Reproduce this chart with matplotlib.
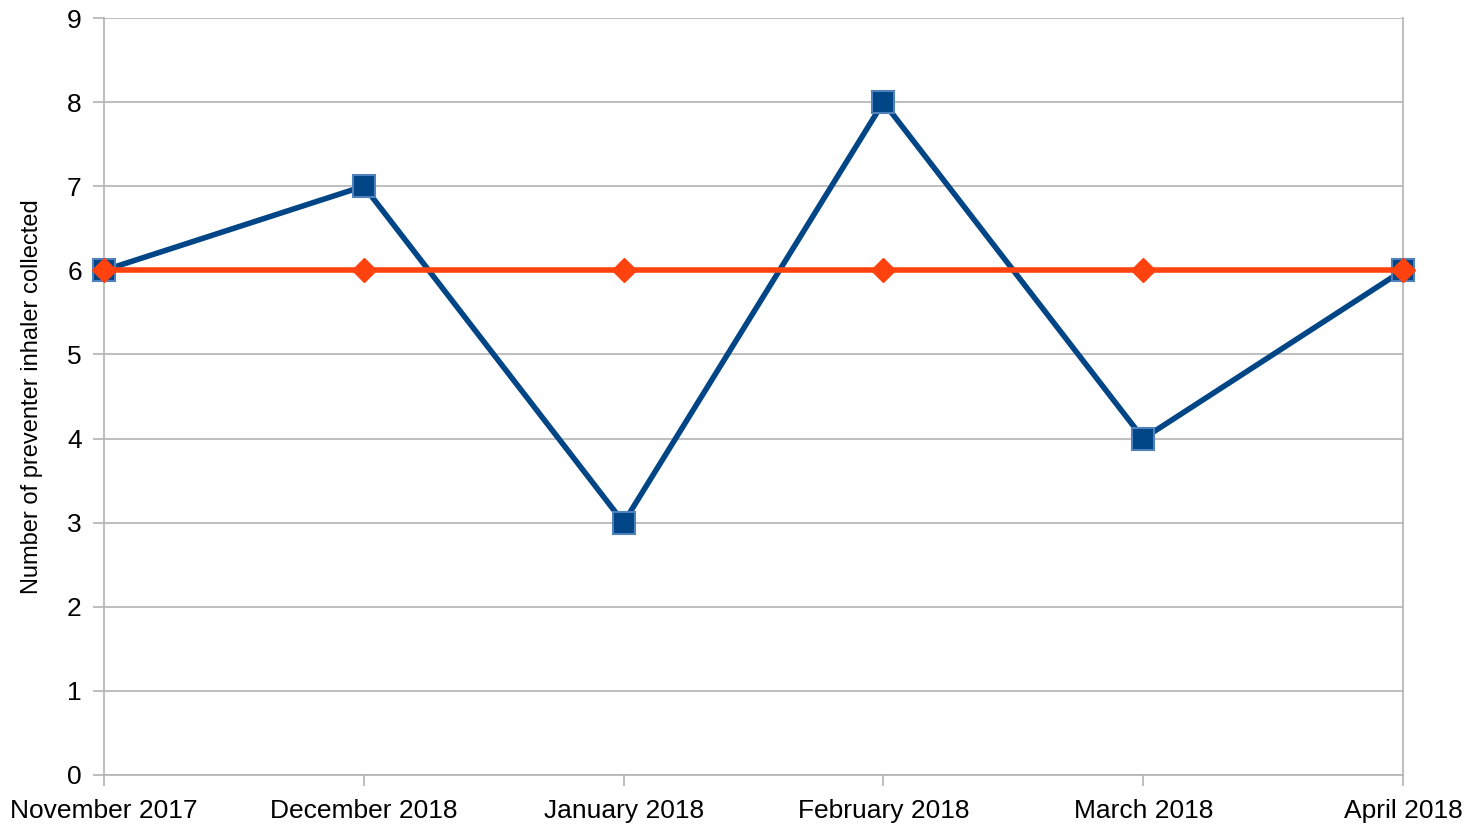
import matplotlib
matplotlib.use("Agg")
import matplotlib.pyplot as plt

plt.rcParams['font.family'] = ['Liberation Sans', 'DejaVu Sans']

months = ["November 2017", "December 2018", "January 2018", "February 2018", "March 2018", "April 2018"]
collected = [6, 7, 3, 8, 4, 6]
target = [6, 6, 6, 6, 6, 6]

fig = plt.figure(figsize=(14.68, 8.25), dpi=100)
ax = fig.add_axes([104/1468, 50/825, 1299/1468, 757/825])

x = list(range(len(months)))
ax.plot(x, collected, color="#004586", lw=4, marker="s", ms=16,
        mfc="#004586", mec="#4f81bd", mew=1.5, zorder=3, clip_on=False)
ax.plot(x, target, color="#ff420e", lw=4, marker="D", ms=12,
        mfc="#ff420e", mec="#ff420e", zorder=4, clip_on=False)

ax.set_xlim(0, 5)
ax.set_ylim(0, 9)
ax.set_yticks(range(10))
ax.set_xticks(x)
ax.set_xticklabels(months)
ax.grid(axis="y", color="#b3b3b3", lw=1.2)
ax.set_axisbelow(True)
for s in ax.spines.values():
    s.set_color("#b3b3b3")
    s.set_linewidth(1.2)
ax.spines["top"].set_visible(False)
ax.tick_params(axis="both", colors="#b3b3b3", length=8, width=1.2, labelcolor="black", labelsize=19)
ax.tick_params(axis="x", pad=9)
ax.tick_params(axis="y", pad=8)
ax.set_ylabel("Number of preventer inhaler collected", fontsize=17, labelpad=17)

fig.savefig("out.png", dpi=100)
